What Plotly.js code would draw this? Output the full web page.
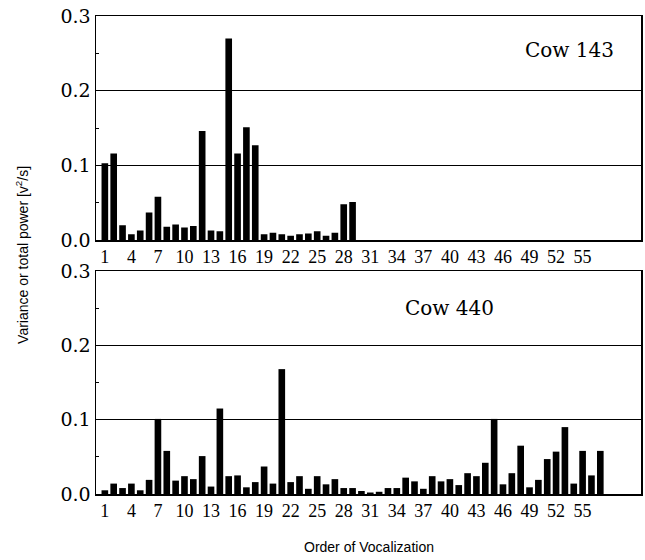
<!DOCTYPE html>
<html>
<head>
<meta charset="utf-8">
<script src="https://cdn.plot.ly/plotly-3.0.1.min.js"></script>
<style>html,body{margin:0;padding:0;background:#fff;}#chart{width:645px;height:560px;}</style>
</head>
<body>
<div id="chart"></div>
<script>
// Cow 143 (top panel), order of vocalization 1..29
const cow143Values = [0.103,0.116,0.020,0.008,0.013,0.037,0.058,0.018,0.021,0.017,
  0.019,0.146,0.013,0.012,0.270,0.116,0.151,0.127,0.008,0.010,
  0.008,0.006,0.008,0.009,0.012,0.006,0.010,0.048,0.051];
// Cow 440 (bottom panel), order of vocalization 1..57
const cow440Values = [0.005,0.014,0.008,0.014,0.005,0.019,0.101,0.058,0.018,0.024,
  0.020,0.051,0.010,0.115,0.024,0.025,0.009,0.016,0.037,0.014,
  0.168,0.016,0.024,0.007,0.024,0.013,0.020,0.008,0.008,0.004,
  0.002,0.003,0.008,0.008,0.022,0.017,0.007,0.024,0.017,0.020,
  0.012,0.028,0.024,0.042,0.101,0.013,0.028,0.065,0.009,0.019,
  0.047,0.057,0.090,0.014,0.058,0.025,0.058];
const cow143Order = cow143Values.map((_, i) => i + 1);
const cow440Order = cow440Values.map((_, i) => i + 1);
const xTickVals = [1,4,7,10,13,16,19,22,25,28,31,34,37,40,43,46,49,52,55];
const xTickText = ["1","4","7","10","13","16","19","22","25","28","31","34","37","40","43","46","49","52","55"];
const yTickVals = [0, 0.1, 0.2, 0.3];
const yTickText = ["0.0","0.1","0.2","0.3"];
const panelLabels = ["Cow 143", "Cow 440"];

const SERIF = "DejaVu Serif, Noto Serif, Times New Roman, Liberation Serif, Times, serif";
const SERIF2 = "Times New Roman, Liberation Serif, Tinos, Times, Noto Serif, DejaVu Serif, serif";
const SANS = "Liberation Sans, Arial, sans-serif";

const traces = [
  {type:'bar', x:cow143Order, y:cow143Values, xaxis:'x', yaxis:'y',
   marker:{color:'#000'}, hoverinfo:'x+y'},
  {type:'bar', x:cow440Order, y:cow440Values, xaxis:'x2', yaxis:'y2',
   marker:{color:'#000'}, hoverinfo:'x+y'}
];

const xCommon = {
  range:[0, 61.6], tickmode:'array', tickvals:xTickVals, ticktext:xTickText,
  ticks:'', showgrid:false, zeroline:false, showline:true, mirror:true,
  linecolor:'#000', linewidth:1.5,
  tickfont:{family:SERIF2, size:18, color:'#000'}
};
const yCommon = {
  range:[0, 0.3], tickmode:'array', tickvals:yTickVals, ticktext:yTickText,
  ticks:'inside', ticklen:4, tickcolor:'#000',
  minor:{dtick:0.05, ticks:'inside', ticklen:3, tickcolor:'#000', showgrid:false},
  showgrid:true, gridcolor:'#000', gridwidth:1, zeroline:false,
  showline:true, mirror:true, linecolor:'#000', linewidth:1.5,
  tickfont:{family:SERIF, size:19, color:'#000'}
};

const layout = {
  width:645, height:560,
  margin:{l:96, r:4, t:16, b:66},
  paper_bgcolor:'#fff', plot_bgcolor:'#fff',
  showlegend:false, bargap:0.25,
  xaxis:Object.assign({}, xCommon, {anchor:'y'}),
  yaxis:Object.assign({}, yCommon, {domain:[0.531, 1]}),
  xaxis2:Object.assign({}, xCommon, {anchor:'y2'}),
  yaxis2:Object.assign({}, yCommon, {domain:[0, 0.4665]}),
  annotations:[
    {text:panelLabels[0], xref:'x', yref:'y', x:53.5, y:0.255, showarrow:false,
     xanchor:'center', yanchor:'middle',
     font:{family:SERIF, size:20, color:'#000'}},
    {text:panelLabels[1], xref:'x2', yref:'y2', x:40, y:0.25, showarrow:false,
     xanchor:'center', yanchor:'middle',
     font:{family:SERIF, size:20, color:'#000'}},
    {text:'Variance or total power [v<sup>2</sup>/s]', xref:'paper', yref:'paper',
     x:-0.136, y:0.5, textangle:-90, showarrow:false, xanchor:'center', yanchor:'middle',
     font:{family:SANS, size:14, color:'#000'}},
    {text:'Order of Vocalization', xref:'paper', yref:'paper',
     x:0.5, y:-0.11, showarrow:false, xanchor:'center', yanchor:'middle',
     font:{family:SANS, size:14, color:'#000'}}
  ]
};

Plotly.newPlot('chart', traces, layout, {displayModeBar:false, staticPlot:true});
</script>
</body>
</html>
